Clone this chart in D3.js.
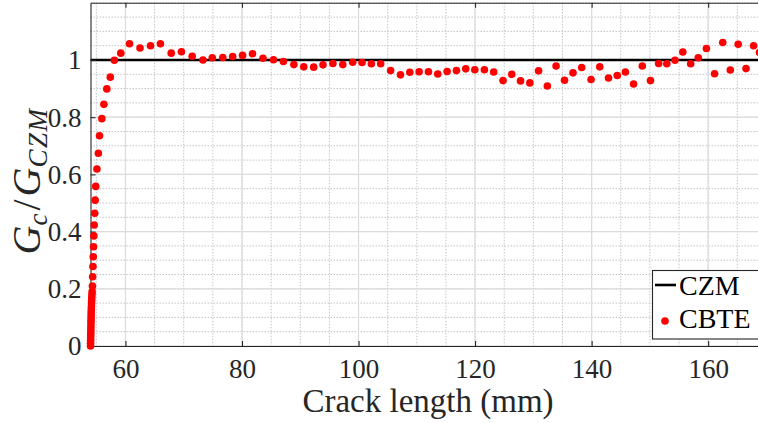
<!DOCTYPE html>
<html>
<head>
<meta charset="utf-8">
<script src="https://cdn.jsdelivr.net/npm/d3@7"></script>
<style>
  body { margin: 0; background: #fff; }
</style>
</head>
<body>
<div id="canva"></div>
<script>
// crack length (mm) and normalised energy release rate Gc/G_CZM
const crackLength = [
  54.00, 54.01, 54.02, 54.03, 54.04, 54.05, 54.06, 54.07, 54.08, 54.09,
  54.10, 54.11, 54.12, 54.14, 54.16, 54.18, 54.20, 54.22, 54.25, 54.28,
  54.33, 54.37, 54.42, 54.47, 54.52, 54.57, 54.64, 54.72, 54.80, 54.90,
  55.10, 55.35, 55.55, 55.95, 56.30, 56.80, 57.40, 58.10, 59.20, 60.70,
  62.50, 64.30, 66.00, 67.85, 69.60, 71.45, 73.30, 74.90, 76.70, 78.40,
  80.10, 81.80, 83.60, 85.40, 87.10, 88.90, 90.60, 92.30, 93.90, 95.60,
  97.30, 99.00, 100.6, 102.2, 103.8, 105.5, 107.2, 108.8, 110.4, 112.0,
  113.6, 115.2, 116.8, 118.4, 119.95, 121.6, 123.2, 124.8, 126.3, 127.8,
  129.4, 130.9, 132.4, 133.9, 135.35, 136.8, 138.3, 139.9, 141.4, 142.9,
  144.4, 145.8, 147.2, 148.7, 150.1, 151.5, 152.9, 154.3, 155.65, 157.0,
  158.3, 159.7, 161.1, 162.5, 163.8, 165.15, 166.5, 167.8, 168.8
];
const gRatio = [
  0.000, 0.010, 0.020, 0.030, 0.040, 0.050, 0.060, 0.070, 0.080, 0.090,
  0.100, 0.110, 0.120, 0.130, 0.140, 0.150, 0.160, 0.170, 0.180, 0.190,
  0.210, 0.242, 0.278, 0.312, 0.347, 0.385, 0.423, 0.464, 0.510, 0.558,
  0.619, 0.674, 0.735, 0.795, 0.845, 0.899, 0.940, 0.999, 1.024, 1.057,
  1.042, 1.050, 1.057, 1.024, 1.029, 1.013, 1.000, 1.008, 1.009, 1.012,
  1.016, 1.022, 1.006, 1.001, 0.995, 0.984, 0.976, 0.975, 0.983, 0.988,
  0.984, 0.992, 0.991, 0.987, 0.987, 0.963, 0.948, 0.957, 0.959, 0.959,
  0.951, 0.960, 0.963, 0.969, 0.966, 0.966, 0.958, 0.928, 0.950, 0.927,
  0.920, 0.962, 0.909, 0.979, 0.929, 0.955, 0.974, 0.932, 0.976, 0.937,
  0.946, 0.958, 0.916, 0.979, 0.928, 0.988, 0.987, 0.999, 1.028, 0.987,
  1.008, 1.040, 0.952, 1.061, 0.965, 1.055, 0.970, 1.050, 1.027
];
const czmLevel = 1;
const xTicks = [60, 80, 100, 120, 140, 160];
const yTicks = [0, 0.2, 0.4, 0.6, 0.8, 1];
const xMinorTicks = d3.range(55, 171, 5);
const yMinorTicks = d3.range(0, 1.2001, 0.05);

const width = 758, height = 423;
const plotLeft = 90.5, plotTop = 2.8, plotBottom = 346;
const xDomain = [54, 170];
const fontName = 'Liberation Serif';
const font = size => `${size}px "${fontName}"`;

const x = d3.scaleLinear().domain(xDomain).range([plotLeft, plotLeft + 116 * 5.827]);
const y = d3.scaleLinear().domain([0, 1.2]).range([plotBottom, plotTop]);
const plotRight = x(xDomain[1]);

const svg = d3.select('#canva').append('svg')
    .attr('width', width)
    .attr('height', height)
    .attr('font-family', fontName);

// minor dotted grid
svg.append('g').selectAll('line')
    .data(xMinorTicks)
    .enter().append('line')
    .attr('x1', d => x(d)).attr('x2', d => x(d))
    .attr('y1', plotTop).attr('y2', plotBottom)
    .attr('stroke', '#c4c4c4')
    .attr('stroke-width', 1)
    .attr('stroke-dasharray', '1.5,1.5');

svg.append('g').selectAll('line')
    .data(yMinorTicks)
    .enter().append('line')
    .attr('x1', plotLeft).attr('x2', plotRight)
    .attr('y1', d => y(d)).attr('y2', d => y(d))
    .attr('stroke', '#c4c4c4')
    .attr('stroke-width', 1)
    .attr('stroke-dasharray', '1.5,1.5');

// major grid
svg.append('g').selectAll('line')
    .data(xTicks)
    .enter().append('line')
    .attr('x1', d => x(d)).attr('x2', d => x(d))
    .attr('y1', plotTop).attr('y2', plotBottom)
    .attr('stroke', '#dcdcdc')
    .attr('stroke-width', 1.2);

svg.append('g').selectAll('line')
    .data(yTicks)
    .enter().append('line')
    .attr('x1', plotLeft).attr('x2', plotRight)
    .attr('y1', d => y(d)).attr('y2', d => y(d))
    .attr('stroke', '#dcdcdc')
    .attr('stroke-width', 1.2);

// CZM reference line
svg.append('line')
    .attr('x1', x(xDomain[0])).attr('x2', x(xDomain[1]))
    .attr('y1', y(czmLevel)).attr('y2', y(czmLevel))
    .attr('stroke', '#000')
    .attr('stroke-width', 2.6);

// axes (ticks inside, box)
const axisColor = '#262626';
const xAxis = svg.append('g')
    .attr('transform', `translate(0,${plotBottom})`)
    .call(d3.axisBottom(x).tickValues(xTicks).tickSizeInner(-5).tickSizeOuter(0).tickPadding(13));
const xAxisTop = svg.append('g')
    .attr('transform', `translate(0,${plotTop})`)
    .call(d3.axisTop(x).tickValues(xTicks).tickSizeInner(-5).tickSizeOuter(0).tickFormat(''));
const yAxis = svg.append('g')
    .attr('transform', `translate(${plotLeft},0)`)
    .call(d3.axisLeft(y).tickValues(yTicks).tickSizeInner(-5).tickSizeOuter(0).tickPadding(9)
        .tickFormat(d => d === 0 || d === 1 ? d3.format('d')(d) : d3.format('.1f')(d)));

[xAxis, xAxisTop, yAxis].forEach(g => {
    g.attr('font-family', fontName).attr('font-size', 27);
    g.select('.domain').attr('stroke', axisColor).attr('stroke-width', 1.1);
    g.selectAll('.tick line').attr('stroke', axisColor).attr('stroke-width', 1.1);
    g.selectAll('.tick text')
        .attr('fill', axisColor)
        .style('font', font(27));
});
xAxis.selectAll('.tick text').attr('dy', '0.71em');
yAxis.selectAll('.tick text').attr('dy', '0.33em');

// CBTE points
svg.append('g').selectAll('circle')
    .data(crackLength.map((c, i) => ({ c, g: gRatio[i] })))
    .enter().append('circle')
    .attr('cx', d => x(d.c))
    .attr('cy', d => y(d.g))
    .attr('r', 3.8)
    .attr('fill', '#ff0000');

// axis labels
svg.append('text')
    .attr('x', 428)
    .attr('y', 412)
    .attr('text-anchor', 'middle')
    .style('font', font(33))
    .attr('fill', axisColor)
    .text('Crack length (mm)');

const yLabel = svg.append('text')
    .attr('transform', 'translate(40,181) rotate(-90)')
    .attr('text-anchor', 'middle')
    .attr('fill', axisColor)
    .style('font', font(40));
yLabel.append('tspan').style('font', 'italic ' + font(40)).text('G');
yLabel.append('tspan').style('font', 'italic ' + font(27)).attr('dy', 7).text('c');
yLabel.append('tspan').style('font', font(40)).attr('dy', -7).attr('dx', 3).text('/');
yLabel.append('tspan').style('font', 'italic ' + font(40)).attr('dx', 3).text('G');
yLabel.append('tspan').style('font', 'italic ' + font(27)).attr('dy', 7).attr('letter-spacing', 1.5).text('CZM');

// legend
const legend = svg.append('g');
legend.append('rect')
    .attr('x', 652.5).attr('y', 270.5)
    .attr('width', 110).attr('height', 68.5)
    .attr('fill', '#fff')
    .attr('stroke', axisColor)
    .attr('stroke-width', 1.1);
legend.append('line')
    .attr('x1', 655).attr('x2', 676)
    .attr('y1', 285).attr('y2', 285)
    .attr('stroke', '#000')
    .attr('stroke-width', 2.6);
legend.append('text')
    .attr('x', 679).attr('y', 294.5)
    .style('font', font(28))
    .attr('fill', '#000')
    .text('CZM');
legend.append('circle')
    .attr('cx', 665).attr('cy', 321)
    .attr('r', 3.8)
    .attr('fill', '#ff0000');
legend.append('text')
    .attr('x', 679).attr('y', 327.5)
    .style('font', font(28))
    .attr('fill', '#000')
    .text('CBTE');
</script>
</body>
</html>
